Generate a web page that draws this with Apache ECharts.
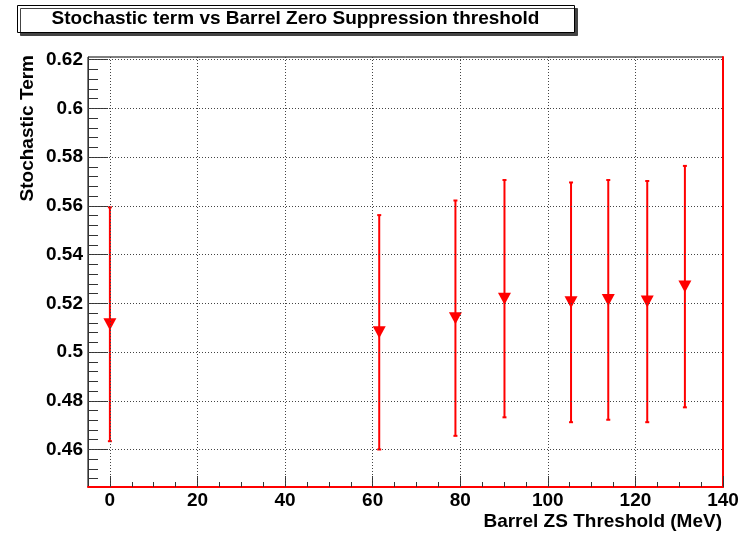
<!DOCTYPE html>
<html>
<head>
<meta charset="utf-8">
<script src="https://cdn.jsdelivr.net/npm/echarts@6/dist/echarts.min.js"></script>
<style>
html,body{margin:0;padding:0;background:#fff;}
#chart{width:748px;height:534px;}
</style>
</head>
<body>
<div id="chart"></div>
<script>
// ---- data ----
var thresholds = [0, 61.5, 78.9, 90.1, 105.3, 113.8, 122.7, 131.3];
var stochTerm  = [0.5114, 0.5081, 0.5139, 0.5219, 0.5204, 0.5214, 0.5207, 0.5269];
var errLow     = [0.4634, 0.4600, 0.4656, 0.4732, 0.4712, 0.4722, 0.4712, 0.4773];
var errHigh    = [0.5594, 0.5562, 0.5622, 0.5706, 0.5696, 0.5706, 0.5702, 0.5764];
var xTicks = [0, 20, 40, 60, 80, 100, 120, 140];
var xMinorTicks = [5, 10, 15, 25, 30, 35, 45, 50, 55, 65, 70, 75, 85, 90, 95, 105, 110, 115, 125, 130, 135];
var yTicks = [0.46, 0.48, 0.50, 0.52, 0.54, 0.56, 0.58, 0.60, 0.62];
var yMinorTicks = [0.448, 0.452, 0.456, 0.464, 0.468, 0.472, 0.476, 0.484, 0.488, 0.492, 0.496,
  0.504, 0.508, 0.512, 0.516, 0.524, 0.528, 0.532, 0.536, 0.544, 0.548, 0.552, 0.556,
  0.564, 0.568, 0.572, 0.576, 0.584, 0.588, 0.592, 0.596, 0.604, 0.608, 0.612, 0.616];
var xRange = [-5, 140];
var yRange = [0.4446, 0.6211];
var titleText = 'Stochastic term vs Barrel Zero Suppression threshold';
var xTitle = 'Barrel ZS Threshold (MeV)';
var yTitle = 'Stochastic Term';

// ---- build ----
var FONT = 'Liberation Sans, Arial, Helvetica, sans-serif';
var chart = echarts.init(document.getElementById('chart'), null, {renderer: 'canvas'});

var points = thresholds.map(function (x, i) { return [x, stochTerm[i]]; });
var bars = thresholds.map(function (x, i) { return [x, errLow[i], errHigh[i]]; });
var gridLineData = xTicks.filter(function (v) { return v < xRange[1]; }).map(function (v) { return {xAxis: v}; })
  .concat(yTicks.map(function (v) { return {yAxis: v}; }));

var labelStyle = {color: '#000', fontFamily: FONT, fontWeight: 'bold', fontSize: 19};

var option = {
  animation: false,
  backgroundColor: '#fff',
  grid: {left: 88, right: 25, top: 57, bottom: 47, show: true, borderColor: '#000', borderWidth: 1, backgroundColor: 'transparent'},
  xAxis: [
    {type: 'value', min: xRange[0], max: xRange[1], position: 'bottom',
     axisLine: {show: true, onZero: false, lineStyle: {color: '#ff0000', width: 2}},
     axisTick: {show: true, inside: true, length: 11, customValues: xTicks, lineStyle: {color: '#333', width: 1}},
     axisLabel: Object.assign({show: true, margin: 4, customValues: xTicks}, labelStyle),
     splitLine: {show: false}},
    {type: 'value', min: xRange[0], max: xRange[1], position: 'bottom',
     axisLine: {show: false, onZero: false},
     axisTick: {show: true, inside: true, length: 5, customValues: xMinorTicks, lineStyle: {color: '#333', width: 1}},
     axisLabel: {show: false},
     splitLine: {show: false}}
  ],
  yAxis: [
    {type: 'value', min: yRange[0], max: yRange[1], position: 'left',
     axisLine: {show: true, onZero: false, lineStyle: {color: '#333', width: 1}},
     axisTick: {show: true, inside: true, length: 20, customValues: yTicks, lineStyle: {color: '#333', width: 1}},
     axisLabel: Object.assign({show: true, margin: 5, customValues: yTicks,
       formatter: function (v) { return String(Math.round(v * 1000) / 1000); }}, labelStyle),
     splitLine: {show: false}},
    {type: 'value', min: yRange[0], max: yRange[1], position: 'left',
     axisLine: {show: false, onZero: false},
     axisTick: {show: true, inside: true, length: 10, customValues: yMinorTicks, lineStyle: {color: '#333', width: 1}},
     axisLabel: {show: false},
     splitLine: {show: false}},
    {type: 'value', min: yRange[0], max: yRange[1], position: 'right',
     axisLine: {show: true, onZero: false, lineStyle: {color: '#ff0000', width: 2}},
     axisTick: {show: false}, axisLabel: {show: false}, splitLine: {show: false}}
  ],
  graphic: [
    {type: 'rect', left: 17, top: 5, z: 10,
     shape: {width: 557, height: 27},
     style: {fill: '#fff', stroke: '#000', lineWidth: 1, shadowColor: '#444', shadowOffsetX: 3, shadowOffsetY: 3, shadowBlur: 0}},
    {type: 'text', x: 295.5, y: 19, z: 11,
     style: {text: titleText, fill: '#000', font: 'bold 19px ' + FONT, textAlign: 'center', textVerticalAlign: 'middle'}},
    {type: 'text', x: 722, y: 522, z: 11,
     style: {text: xTitle, fill: '#000', font: 'bold 19px ' + FONT, textAlign: 'right', textVerticalAlign: 'middle'}},
    {type: 'text', x: 28, y: 55, rotation: Math.PI / 2, z: 11,
     style: {text: yTitle, fill: '#000', font: 'bold 19px ' + FONT, textAlign: 'right', textVerticalAlign: 'middle'}}
  ],
  series: [
    {type: 'scatter', name: 'grid', data: [], xAxisIndex: 0, yAxisIndex: 0, z: 1, silent: true,
     markLine: {silent: true, symbol: ['none', 'none'], label: {show: false}, animation: false,
       lineStyle: {color: '#444', width: 1, type: [1, 2]}, emphasis: {disabled: true},
       data: gridLineData}},
    {type: 'custom', name: 'errors', xAxisIndex: 0, yAxisIndex: 0, z: 3, silent: true,
     data: bars,
     renderItem: function (params, api) {
       var lo = api.coord([api.value(0), api.value(1)]);
       var hi = api.coord([api.value(0), api.value(2)]);
       var cap = 2;
       var st = {stroke: '#ff0000', lineWidth: 2};
       return {type: 'group', children: [
         {type: 'line', shape: {x1: lo[0], y1: lo[1], x2: hi[0], y2: hi[1]}, style: st},
         {type: 'line', shape: {x1: lo[0] - cap, y1: lo[1], x2: lo[0] + cap, y2: lo[1]}, style: st},
         {type: 'line', shape: {x1: hi[0] - cap, y1: hi[1], x2: hi[0] + cap, y2: hi[1]}, style: st}
       ]};
     }},
    {type: 'scatter', name: 'stochastic', xAxisIndex: 0, yAxisIndex: 0, z: 4, silent: true,
     data: points, symbol: 'triangle', symbolRotate: 180, symbolSize: [13, 12],
     itemStyle: {color: '#ff0000', opacity: 1}}
  ]
};
chart.setOption(option);
</script>
</body>
</html>
